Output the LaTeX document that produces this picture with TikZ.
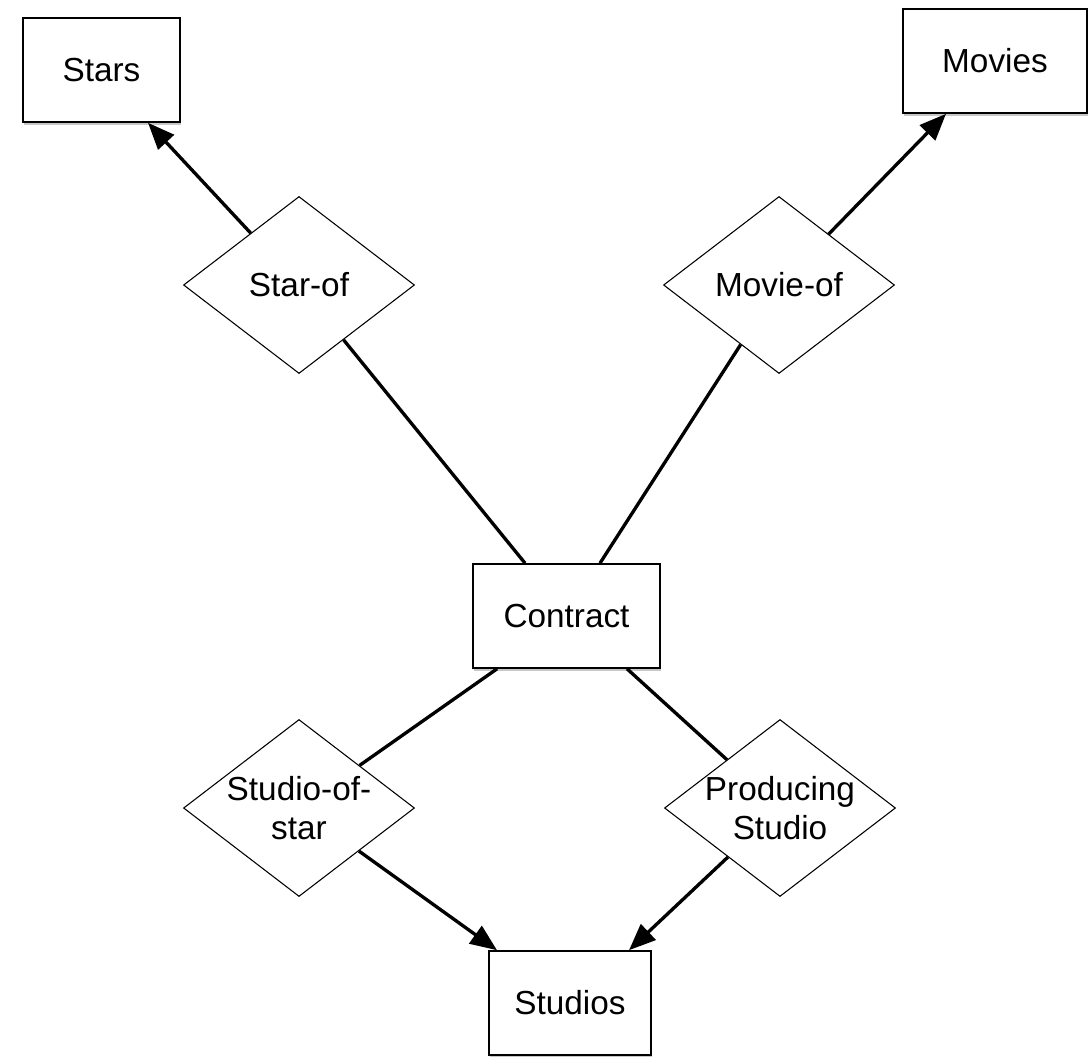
\documentclass[tikz,border=0pt]{standalone}
\usepackage{fontspec}
\setmainfont{Liberation Sans}
\usetikzlibrary{shapes.geometric,arrows.meta,shadows}

\begin{document}
\begin{tikzpicture}[x=0.75pt,y=-0.75pt,
  every node/.style={font=\fontsize{25}{29}\selectfont},
  entity/.style={draw, line width=1.2pt, fill=white, inner sep=0pt,
    minimum height=78pt,
    drop shadow={shadow xshift=0.8pt, shadow yshift=-2.2pt, opacity=0.22, fill=black}},
  relation/.style={draw, diamond, line width=0.8pt, fill=white, inner sep=0pt,
    minimum width=173.25pt, minimum height=132.75pt},
  link/.style={line width=2.5pt},
  arrowlink/.style={link, -{Triangle[length=20pt,width=16pt]}}
]
\useasboundingbox (0,0) rectangle (1088,1056);

% entity sets
\node[entity, minimum width=117.75pt] (stars)    at (101.5,70) {Stars};
\node[entity, minimum width=138pt]    (movies)   at (995,61)   {Movies};
\node[entity, minimum width=140.25pt] (contract) at (566.5,616) {Contract};
\node[entity, minimum width=121.5pt]  (studios)  at (570,1003) {Studios};

% relationships
\node[relation, label={[align=center]center:Star-of}]  (starof)  at (299,285) {};
\node[relation, label={[align=center]center:Movie-of}] (movieof) at (779,285) {};
\node[relation, label={[align=center]center:Studio-of-\\star}]      (studioofstar) at (299,808) {};
\node[relation, label={[align=center]center:Producing\\Studio}]     (producing)    at (780,808) {};

% connectors
\draw[arrowlink] (starof) -- ([xshift=34.9pt]stars.south);
\draw[arrowlink] (movieof) -- ([xshift=-36.75pt]movies.south);
\draw[link] (starof) -- ([xshift=-31.1pt]contract.north);
\draw[link] (movieof) -- ([xshift=25.1pt]contract.north);
\draw[link] ([xshift=-52.1pt]contract.south) -- (studioofstar);
\draw[link] ([xshift=45.4pt]contract.south) -- (producing);
\draw[arrowlink] (studioofstar) -- ([xshift=-54.75pt]studios.north);
\draw[arrowlink] (producing) -- ([xshift=44.25pt]studios.north);
\end{tikzpicture}
\end{document}
